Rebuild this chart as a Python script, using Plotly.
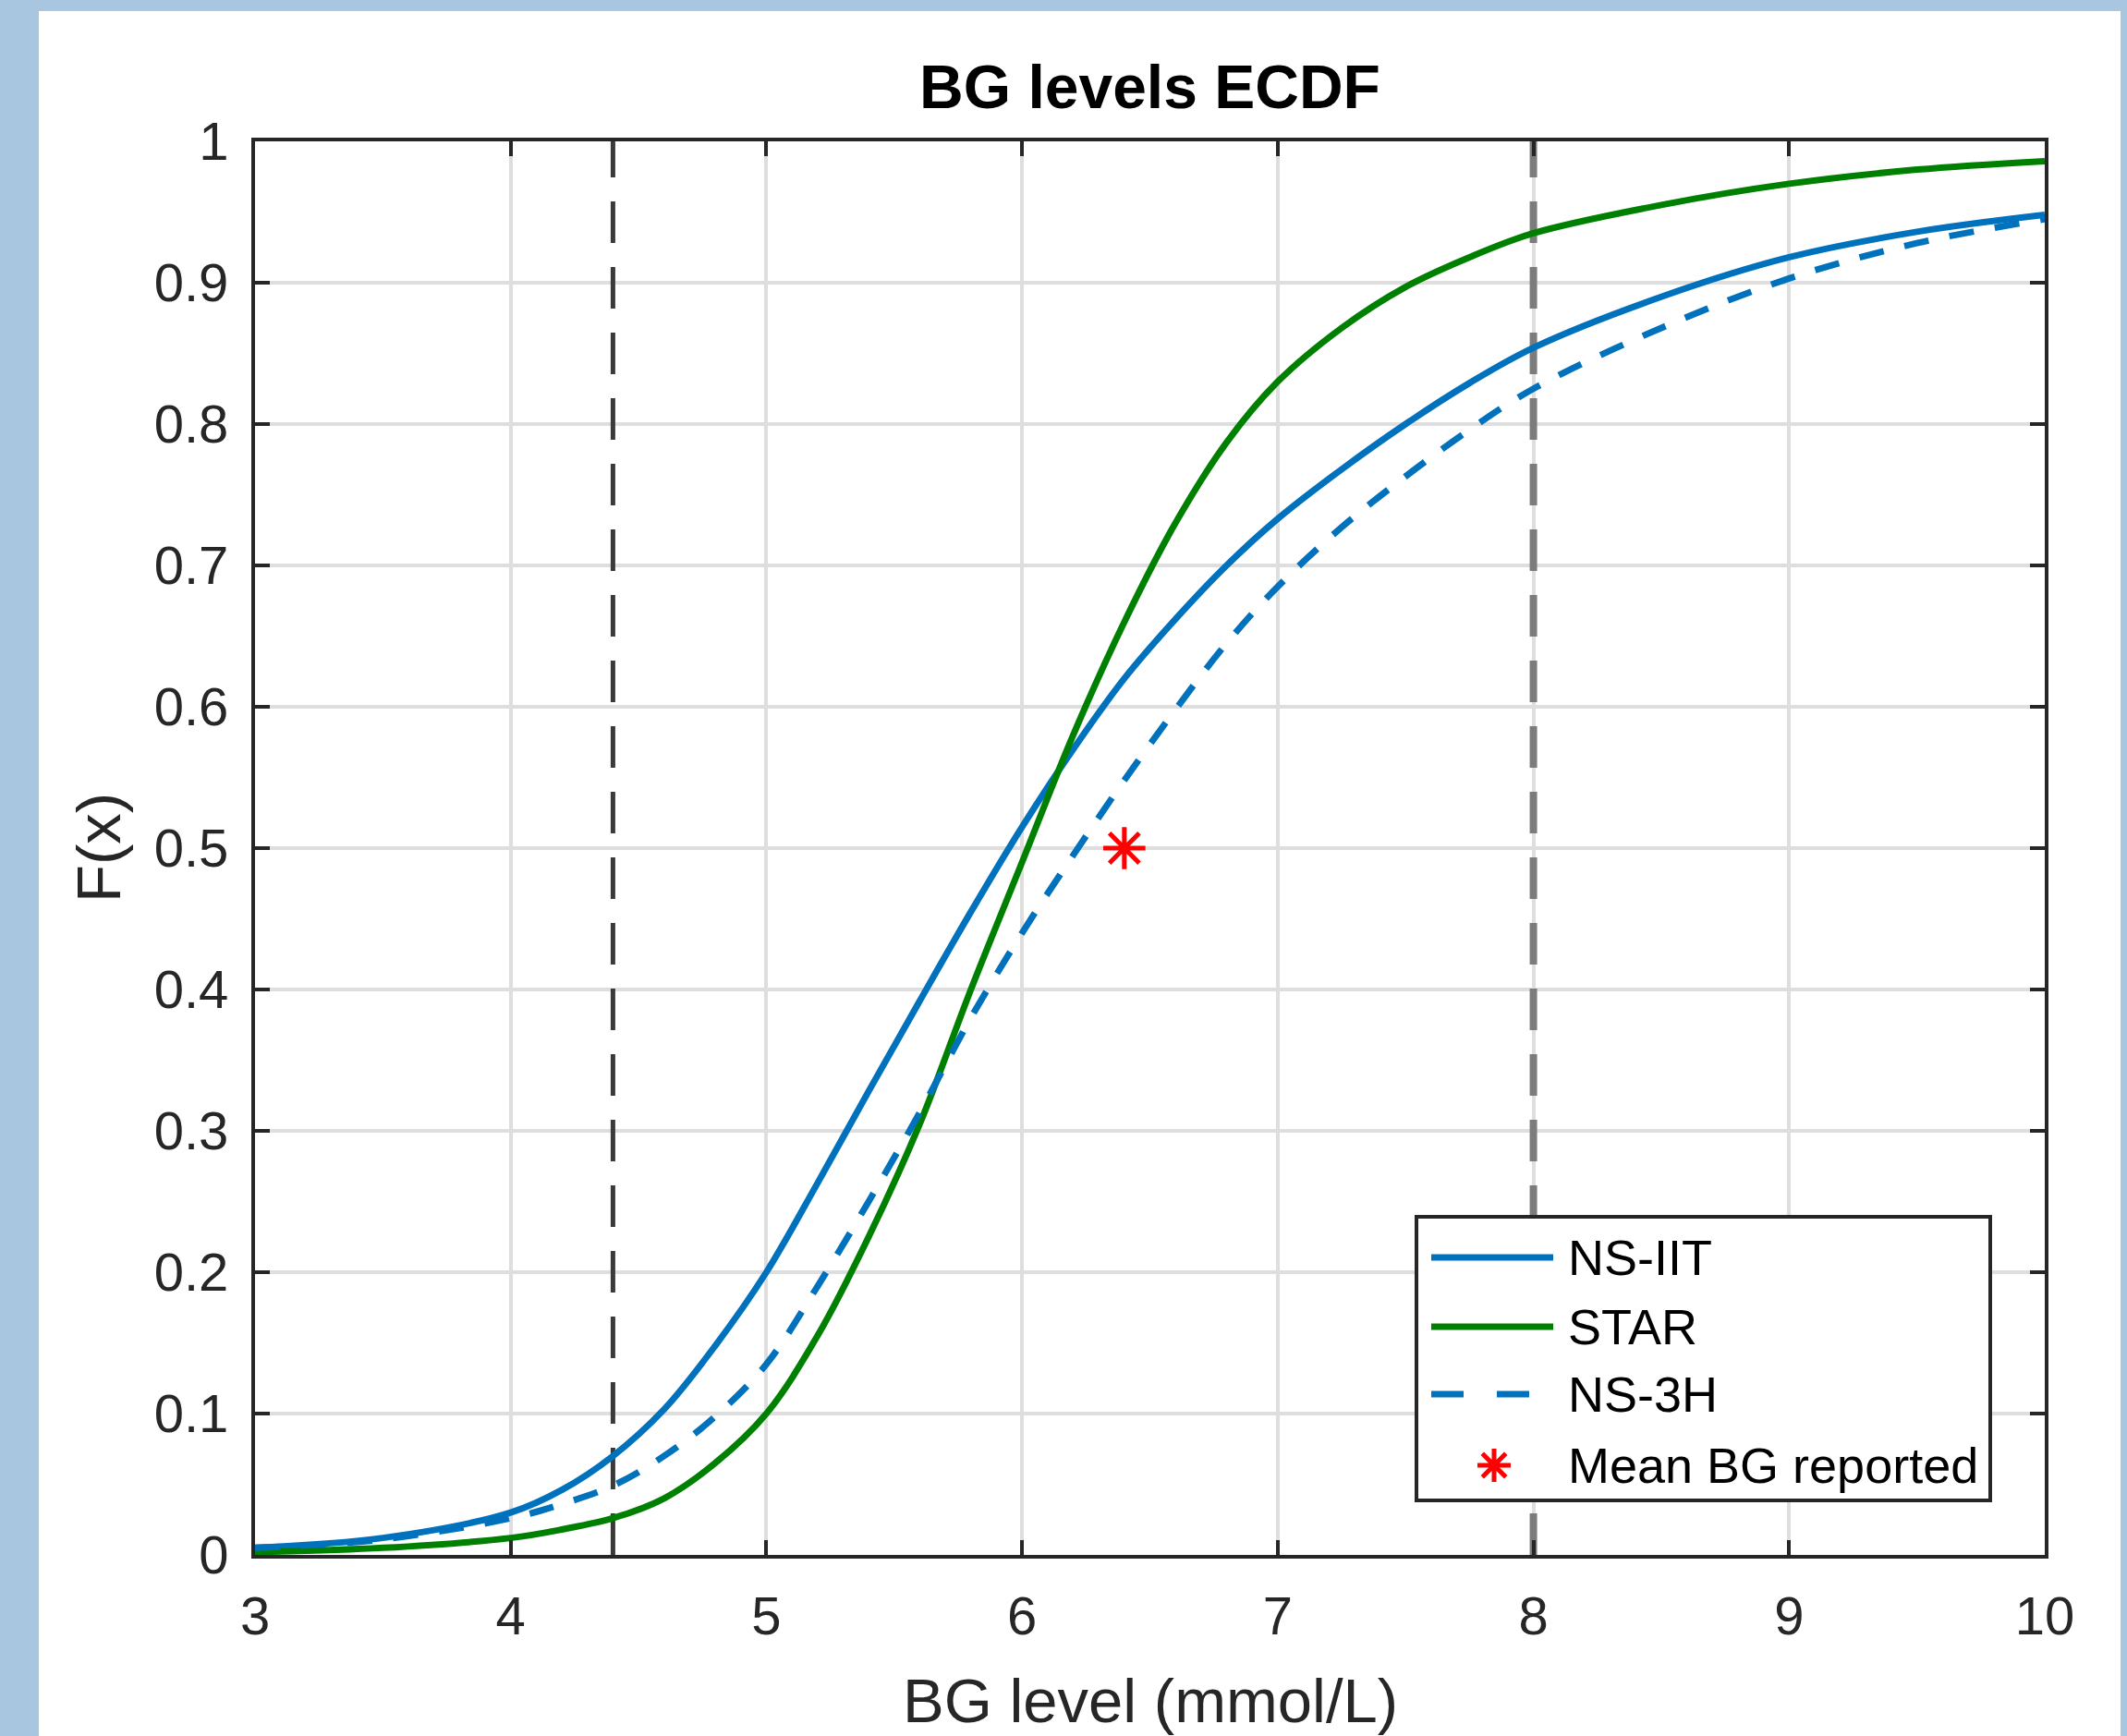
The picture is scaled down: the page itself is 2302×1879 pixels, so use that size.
import plotly.graph_objects as go

# ---------------- data ----------------
x_grid = [3.0, 3.5, 4.0, 4.2, 4.4, 4.6, 4.8, 5.0, 5.2, 5.4, 5.6, 5.8, 6.0, 6.2, 6.4,
          6.6, 6.8, 7.0, 7.25, 7.5, 7.75, 8.0, 8.5, 9.0, 9.5, 10.0]
ns_iit = [0.005, 0.012, 0.030, 0.046, 0.070, 0.103, 0.148, 0.200, 0.263, 0.328, 0.392,
          0.455, 0.515, 0.570, 0.620, 0.662, 0.700, 0.733, 0.768, 0.800, 0.829, 0.854,
          0.890, 0.918, 0.936, 0.948]
star = [0.002, 0.005, 0.012, 0.018, 0.026, 0.040, 0.065, 0.100, 0.155, 0.225, 0.305,
        0.400, 0.490, 0.580, 0.660, 0.730, 0.787, 0.830, 0.868, 0.897, 0.918, 0.935,
        0.955, 0.970, 0.980, 0.986]
ns_3h = [0.005, 0.011, 0.026, 0.036, 0.049, 0.070, 0.098, 0.135, 0.190, 0.250, 0.313,
         0.380, 0.440, 0.495, 0.548, 0.598, 0.645, 0.685, 0.727, 0.763, 0.796, 0.825,
         0.868, 0.903, 0.928, 0.945]
mean_bg_x = [6.4]
mean_bg_y = [0.5]
ref_lines = [4.4, 8.0]

series_names = ["NS-IIT", "STAR", "NS-3H", "Mean BG reported"]
x_ticks = [3, 4, 5, 6, 7, 8, 9, 10]
x_ticktext = ["3", "4", "5", "6", "7", "8", "9", "10"]
y_ticks = [0, 0.1, 0.2, 0.3, 0.4, 0.5, 0.6, 0.7, 0.8, 0.9, 1.0]
y_ticktext = ["0", "0.1", "0.2", "0.3", "0.4", "0.5", "0.6", "0.7", "0.8", "0.9", "1"]

title_text = "BG levels ECDF"
x_label = "BG level (mmol/L)"
y_label = "F(x)"

# ---------------- layout constants ----------------
W, H = 2302, 1879
L, R, T, B = 276, 2213, 153, 1683   # plot area in pixels
FONT = "Liberation Sans, Arial, Helvetica, sans-serif"
BLUE = "#0072BD"
GREEN = "#008000"
AXC = "#262626"
LW = 7


def px(xp):
    return (xp - L) / (R - L)


def py(yp):
    return (B - yp) / (B - T)


fig = go.Figure()

# reference dashed lines (drawn first, under curves)
ref_styles = [dict(color="#3a3a3a", width=5), dict(color="#7c7c7c", width=8)]
for v, st in zip(ref_lines, ref_styles):
    fig.add_trace(go.Scatter(x=[v, v], y=[y_ticks[0], y_ticks[-1]], mode="lines",
                             line=dict(color=st["color"], width=st["width"], dash="45px,26px"),
                             showlegend=False, hoverinfo="skip"))

fig.add_trace(go.Scatter(x=x_grid, y=ns_iit, mode="lines", name=series_names[0],
                         line=dict(color=BLUE, width=LW, shape="spline", smoothing=1.0)))
fig.add_trace(go.Scatter(x=x_grid, y=star, mode="lines", name=series_names[1],
                         line=dict(color=GREEN, width=LW, shape="spline", smoothing=1.0)))
fig.add_trace(go.Scatter(x=x_grid, y=ns_3h, mode="lines", name=series_names[2],
                         line=dict(color=BLUE, width=LW, dash="27px,23px", shape="spline", smoothing=1.0)))
fig.add_trace(go.Scatter(x=mean_bg_x, y=mean_bg_y, mode="markers", name=series_names[3],
                         marker=dict(symbol="asterisk-open", size=38, color="red",
                                     line=dict(color="red", width=5))))

shapes = []
# white panel behind the figure
shapes.append(dict(type="rect", xref="paper", yref="paper", layer="below",
                   x0=px(42), x1=px(2295), y0=py(1879 + 50), y1=py(12),
                   fillcolor="white", line=dict(width=0)))

# manual legend
lx0, lx1, ly0, ly1 = 1533, 2154, 1317, 1624
shapes.append(dict(type="rect", xref="paper", yref="paper", layer="above",
                   x0=px(lx0), x1=px(lx1), y0=py(ly1), y1=py(ly0),
                   fillcolor="white", line=dict(color=AXC, width=4)))
item_y = [1361, 1436, 1509, 1586]
samp_x0, samp_x1 = 1549, 1681
shapes.append(dict(type="line", xref="paper", yref="paper", layer="above",
                   x0=px(samp_x0), x1=px(samp_x1), y0=py(item_y[0]), y1=py(item_y[0]),
                   line=dict(color=BLUE, width=LW)))
shapes.append(dict(type="line", xref="paper", yref="paper", layer="above",
                   x0=px(samp_x0), x1=px(samp_x1), y0=py(item_y[1]), y1=py(item_y[1]),
                   line=dict(color=GREEN, width=LW)))
shapes.append(dict(type="line", xref="paper", yref="paper", layer="above",
                   x0=px(samp_x0), x1=px(samp_x1), y0=py(item_y[2]), y1=py(item_y[2]),
                   line=dict(color=BLUE, width=LW, dash="35px,36px")))
# asterisk glyph for legend
cx, cy, r = 1617, item_y[3], 18
rd = r * 0.7071
segs = [((cx - r, cy), (cx + r, cy)), ((cx, cy - r), (cx, cy + r)),
        ((cx - rd, cy - rd), (cx + rd, cy + rd)), ((cx - rd, cy + rd), (cx + rd, cy - rd))]
path = " ".join("M{:.5f},{:.5f} L{:.5f},{:.5f}".format(px(a[0]), py(a[1]), px(b[0]), py(b[1]))
                for a, b in segs)
shapes.append(dict(type="path", xref="paper", yref="paper", layer="above", path=path,
                   line=dict(color="red", width=5)))

annotations = []
for name, yy in zip(series_names, item_y):
    annotations.append(dict(text=name, xref="paper", yref="paper", x=px(1695), y=py(yy),
                            xanchor="left", yanchor="middle", showarrow=False,
                            font=dict(family=FONT, size=54, color="black")))
# axis titles
annotations.append(dict(text=x_label, xref="paper", yref="paper", x=px((L + R) / 2), y=py(1840),
                        xanchor="center", yanchor="middle", showarrow=False,
                        font=dict(family=FONT, size=67, color=AXC)))
annotations.append(dict(text=y_label, xref="paper", yref="paper", x=px(106), y=0.5,
                        xanchor="center", yanchor="middle", showarrow=False, textangle=-90,
                        font=dict(family=FONT, size=67, color=AXC)))

axis_common = dict(showline=True, linecolor=AXC, linewidth=4, mirror="ticks",
                   ticks="inside", ticklen=16, tickwidth=4, tickcolor=AXC,
                   showgrid=True, gridcolor="#dedede", gridwidth=4, zeroline=False,
                   tickfont=dict(family=FONT, size=58, color=AXC))

fig.update_layout(
    width=W, height=H, autosize=False,
    margin=dict(l=L, r=W - R, t=T, b=H - B, pad=0),
    paper_bgcolor="#a8c6e0", plot_bgcolor="white",
    showlegend=False,
    title=dict(text="<b>" + title_text + "</b>", x=px((L + R) / 2), xref="paper", xanchor="center",
               y=1 - 94 / H, yref="container", yanchor="middle",
               font=dict(family=FONT, size=66, color="black")),
    xaxis=dict(range=[3, 10], tickvals=x_ticks, ticktext=x_ticktext, ticklabelstandoff=12,
               **axis_common),
    yaxis=dict(range=[0, 1], tickvals=y_ticks, ticktext=y_ticktext, ticklabelstandoff=13,
               **axis_common),
    shapes=shapes, annotations=annotations,
)

fig.write_html("out.html", config={"displayModeBar": False},
               post_script="document.body.style.margin='0';document.body.style.overflow='hidden';")
